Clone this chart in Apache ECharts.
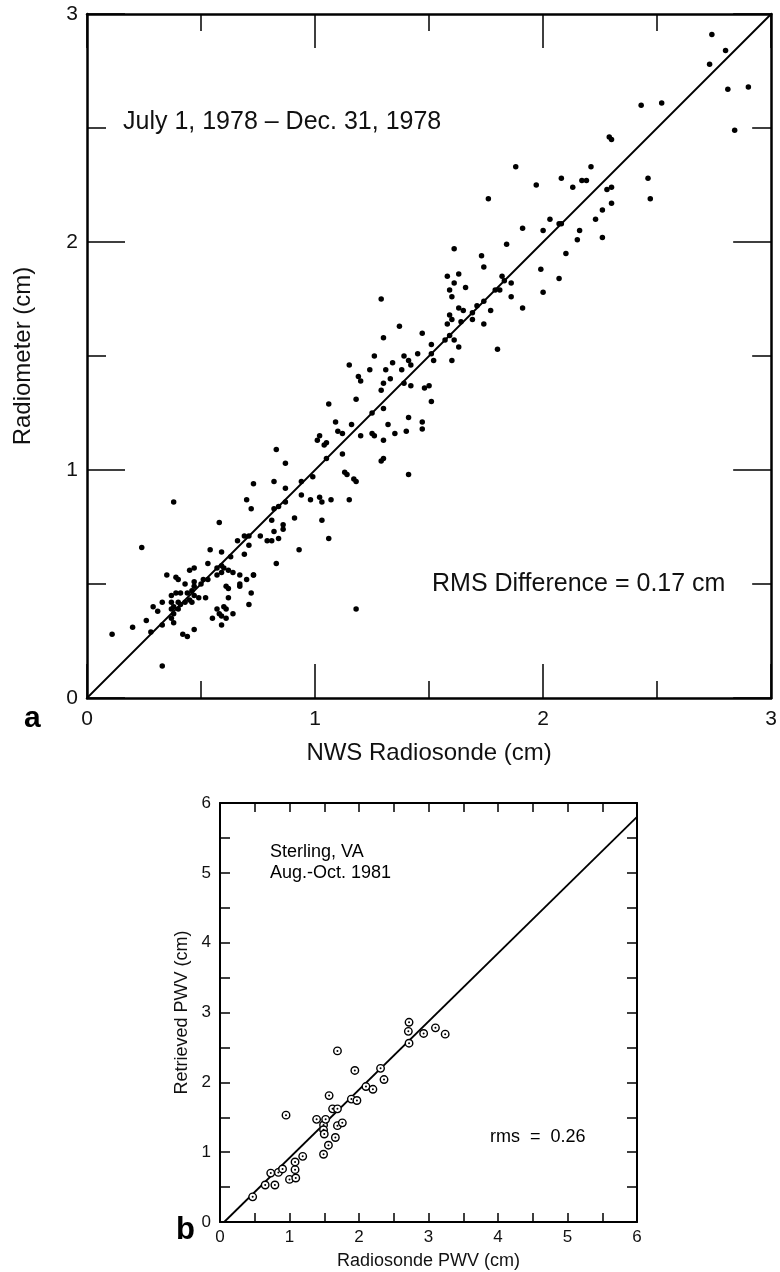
<!DOCTYPE html>
<html>
<head>
<meta charset="utf-8">
<script src="https://cdn.jsdelivr.net/npm/echarts@6/dist/echarts.min.js"></script>
<style>
html,body{margin:0;padding:0;background:#fff;}
#chart{width:780px;height:1272px;}
</style>
</head>
<body>
<div id="chart"></div>
<script>
// ---- Panel a: Radiometer vs NWS Radiosonde (cm) ----
const topPoints = [
[2.74,2.91],[2.80,2.84],[2.73,2.78],[2.81,2.67],[2.90,2.68],[2.84,2.49],[2.43,2.60],[2.52,2.61],[2.29,2.46],[2.30,2.45],[2.21,2.33],[2.19,2.27],[2.17,2.27],[2.46,2.28],[2.47,2.19],[2.28,2.23],[2.30,2.24],[2.30,2.17],[2.26,2.14],[2.23,2.10],[2.26,2.02],
[1.88,2.33],[2.08,2.28],[1.97,2.25],[2.13,2.24],[1.76,2.19],[2.03,2.10],[2.07,2.08],[2.08,2.08],[1.91,2.06],[2.00,2.05],[2.16,2.05],[2.15,2.01],[1.84,1.99],[1.61,1.97],[1.73,1.94],[1.74,1.89],[2.10,1.95],[1.99,1.88],[2.07,1.84],[1.58,1.85],[1.63,1.86],[1.61,1.82],[1.59,1.79],[1.66,1.80],[1.82,1.85],[1.83,1.83],[1.86,1.82],[1.79,1.79],[1.81,1.79],[1.86,1.76],[2.00,1.78],[1.60,1.76],[1.63,1.71],[1.65,1.70],[1.71,1.72],[1.74,1.74],[1.69,1.69],[1.77,1.70],[1.91,1.71],[1.59,1.68],[1.60,1.66],[1.58,1.64],[1.64,1.65],[1.69,1.66],[1.74,1.64],[1.59,1.59],[1.57,1.57],[1.61,1.57],[1.63,1.54],[1.51,1.55],[1.51,1.51],[1.52,1.48],[1.60,1.48],[1.80,1.53],[1.50,1.37],[1.48,1.36],[1.51,1.30],
[1.29,1.75],[1.37,1.63],[1.47,1.60],[1.30,1.58],[1.39,1.50],[1.45,1.51],[1.41,1.48],[1.42,1.46],[1.34,1.47],[1.26,1.50],[1.24,1.44],[1.31,1.44],[1.38,1.44],[1.15,1.46],[1.19,1.41],[1.20,1.39],[1.33,1.40],[1.29,1.35],[1.30,1.38],[1.39,1.38],[1.42,1.37],[1.18,1.31],[1.25,1.25],[1.30,1.27],[1.06,1.29],[1.41,1.23],[1.47,1.21],[1.47,1.18],[1.32,1.20],[1.35,1.16],[1.40,1.17],[1.16,1.20],[1.09,1.21],[1.10,1.17],[1.12,1.16],[1.20,1.15],[1.25,1.16],[1.26,1.15],[1.30,1.13],[1.29,1.04],[1.30,1.05],[1.41,0.98],[1.01,1.13],[1.02,1.15],[1.04,1.11],[1.05,1.12],[1.05,1.05],[1.12,1.07],[1.13,0.99],[1.14,0.98],[1.17,0.96],[1.18,0.95],[0.99,0.97],[0.94,0.95],[0.87,1.03],[0.83,1.09],[0.82,0.95],[0.87,0.92],[0.73,0.94],[0.94,0.89],[0.98,0.87],[1.02,0.88],[1.03,0.86],[1.07,0.87],[1.15,0.87],[0.82,0.83],[0.84,0.84],[0.87,0.86],[0.91,0.79],[1.03,0.78],[0.81,0.78],[0.86,0.76],[0.86,0.74],[0.82,0.73],[0.76,0.71],[0.79,0.69],[0.81,0.69],[0.84,0.70],[1.06,0.70],[0.93,0.65],[0.83,0.59],[0.73,0.54],[1.18,0.39],
[0.38,0.86],[0.70,0.87],[0.72,0.83],[0.58,0.77],[0.69,0.71],[0.71,0.71],[0.66,0.69],[0.24,0.66],[0.54,0.65],[0.59,0.64],[0.71,0.67],[0.69,0.63],[0.63,0.62],[0.53,0.59],[0.45,0.56],[0.47,0.57],[0.35,0.54],[0.39,0.53],[0.40,0.52],[0.43,0.50],[0.47,0.51],[0.47,0.49],[0.50,0.50],[0.51,0.52],[0.53,0.52],[0.57,0.57],[0.59,0.58],[0.57,0.54],[0.59,0.55],[0.60,0.57],[0.62,0.56],[0.64,0.55],[0.67,0.54],[0.67,0.50],[0.67,0.49],[0.70,0.52],[0.73,0.54],[0.61,0.49],[0.62,0.48],[0.72,0.46],[0.52,0.44],[0.62,0.44],[0.60,0.40],[0.61,0.39],[0.57,0.39],[0.58,0.37],[0.59,0.36],[0.55,0.35],[0.61,0.35],[0.64,0.37],[0.71,0.41],[0.59,0.32],
[0.37,0.45],[0.39,0.46],[0.41,0.46],[0.44,0.46],[0.46,0.47],[0.47,0.45],[0.49,0.44],[0.45,0.43],[0.46,0.42],[0.37,0.42],[0.38,0.40],[0.37,0.39],[0.38,0.37],[0.37,0.35],[0.38,0.33],[0.40,0.42],[0.41,0.41],[0.43,0.42],[0.40,0.39],[0.33,0.42],[0.29,0.40],[0.31,0.38],[0.26,0.34],[0.33,0.32],[0.20,0.31],[0.11,0.28],[0.28,0.29],[0.42,0.28],[0.44,0.27],[0.47,0.30],[0.33,0.14]
];
const topLine = [[0,0],[3,3]];
const topAxisRange = [0, 3];
const topXName = 'NWS Radiosonde (cm)';
const topYName = 'Radiometer (cm)';
const topNote = 'July 1, 1978 \u2013 Dec. 31, 1978';
const topRms = 'RMS Difference = 0.17 cm';

// ---- Panel b: Retrieved PWV vs Radiosonde PWV (cm) ----
const bottomPoints = [
[0.47,0.36],[0.65,0.53],[0.79,0.53],[0.73,0.70],[0.84,0.71],[0.90,0.76],[0.95,1.53],[1.00,0.61],[1.09,0.63],[1.08,0.75],[1.08,0.86],[1.19,0.94],[1.39,1.47],[1.49,0.97],[1.49,1.39],[1.49,1.32],[1.50,1.26],[1.52,1.47],[1.56,1.10],[1.57,1.81],[1.62,1.62],[1.66,1.21],[1.69,1.62],[1.69,1.38],[1.69,2.45],[1.76,1.42],[1.94,2.17],[1.89,1.76],[1.97,1.74],[2.10,1.94],[2.20,1.90],[2.31,2.20],[2.36,2.04],[2.72,2.86],[2.71,2.73],[2.72,2.56],[2.93,2.70],[3.10,2.78],[3.24,2.69]
];
const bottomLine = [[0.06,0],[6,5.8]];
const bottomAxisRange = [0, 6];
const bottomXName = 'Radiosonde PWV (cm)';
const bottomYName = 'Retrieved PWV (cm)';
const bottomNote1 = 'Sterling, VA';
const bottomNote2 = 'Aug.-Oct. 1981';
const bottomRms = 'rms  =  0.26';
const panelLabels = ['a', 'b'];

const FONT = 'Liberation Sans, Arial, Helvetica, sans-serif';
const BLACK = '#000';

function mkAxis(dim, grid, pos, range, opts) {
  const a = {
    type: 'value', gridIndex: grid, position: pos,
    min: range[0], max: range[1], interval: 1,
    axisLine: { show: true, onZero: false, lineStyle: { color: BLACK, width: opts.lineW } },
    axisTick: { show: true, inside: true, length: opts.major, lineStyle: { color: BLACK, width: 1.5 } },
    minorTick: { show: true, splitNumber: 2, length: opts.minor, lineStyle: { color: BLACK, width: 1.5 } },
    splitLine: { show: false },
    axisLabel: { show: opts.labels, fontSize: opts.fs, color: '#111', fontFamily: FONT, margin: opts.margin }
  };
  if (opts.name) {
    a.name = opts.name; a.nameLocation = 'middle'; a.nameGap = opts.nameGap;
    a.nameTextStyle = { fontSize: opts.nfs, color: '#111', fontFamily: FONT };
  }
  return a;
}

const chart = echarts.init(document.getElementById('chart'), null, { renderer: 'canvas' });
const option = {
  animation: false,
  backgroundColor: '#fff',
  grid: [
    { left: 87, top: 14, width: 690, height: 684 },
    { left: 220, top: 803, width: 417, height: 419 }
  ],
  xAxis: [
    mkAxis('x', 0, 'bottom', topAxisRange, { lineW: 2.5, major: 34, minor: 17, labels: true, fs: 21, margin: 11, name: topXName, nameGap: 43, nfs: 24 }),
    mkAxis('x', 0, 'top', topAxisRange, { lineW: 2.5, major: 34, minor: 17, labels: false }),
    mkAxis('x', 1, 'bottom', bottomAxisRange, { lineW: 2, major: 9, minor: 9, labels: true, fs: 17, margin: 7, name: bottomXName, nameGap: 30, nfs: 18 }),
    mkAxis('x', 1, 'top', bottomAxisRange, { lineW: 2, major: 9, minor: 9, labels: false })
  ],
  yAxis: [
    mkAxis('y', 0, 'left', topAxisRange, { lineW: 2.5, major: 38, minor: 19, labels: true, fs: 21, margin: 9, name: topYName, nameGap: 52, nfs: 24 }),
    mkAxis('y', 0, 'right', topAxisRange, { lineW: 2.5, major: 38, minor: 19, labels: false }),
    mkAxis('y', 1, 'left', bottomAxisRange, { lineW: 2, major: 10, minor: 10, labels: true, fs: 17, margin: 9, name: bottomYName, nameGap: 29, nfs: 18 }),
    mkAxis('y', 1, 'right', bottomAxisRange, { lineW: 2, major: 10, minor: 10, labels: false })
  ],
  series: [
    { type: 'line', xAxisIndex: 0, yAxisIndex: 0, data: topLine, symbol: 'none', lineStyle: { color: BLACK, width: 1.8 }, z: 2 },
    { type: 'scatter', xAxisIndex: 0, yAxisIndex: 0, data: topPoints, symbol: 'circle', symbolSize: 5.5, itemStyle: { color: BLACK, opacity: 1 }, z: 3 },
    { type: 'line', xAxisIndex: 2, yAxisIndex: 2, data: bottomLine, symbol: 'none', lineStyle: { color: BLACK, width: 1.8 }, z: 2 },
    { type: 'scatter', xAxisIndex: 2, yAxisIndex: 2, data: bottomPoints, symbol: 'circle', symbolSize: 7.5, itemStyle: { color: '#fff', borderColor: BLACK, borderWidth: 1.4, opacity: 1 }, z: 3 },
    { type: 'scatter', xAxisIndex: 2, yAxisIndex: 2, data: bottomPoints, symbol: 'circle', symbolSize: 2, itemStyle: { color: BLACK, opacity: 1 }, z: 4 }
  ],
  graphic: [
    { type: 'text', left: 123, top: 110, style: { text: topNote, font: '25px ' + FONT, fill: '#111' } },
    { type: 'text', left: 432, top: 572, style: { text: topRms, font: '25px ' + FONT, fill: '#111' } },
    { type: 'text', left: 24, top: 704, style: { text: panelLabels[0], font: 'bold 30px ' + FONT, fill: '#000' } },
    { type: 'text', left: 270, top: 843, style: { text: bottomNote1, font: '18px ' + FONT, fill: '#000' } },
    { type: 'text', left: 270, top: 864, style: { text: bottomNote2, font: '18px ' + FONT, fill: '#000' } },
    { type: 'text', left: 490, top: 1128, style: { text: bottomRms, font: '18px ' + FONT, fill: '#000' } },
    { type: 'text', left: 176, top: 1215, style: { text: panelLabels[1], font: 'bold 31px ' + FONT, fill: '#000' } }
  ]
};
chart.setOption(option);
</script>
</body>
</html>
